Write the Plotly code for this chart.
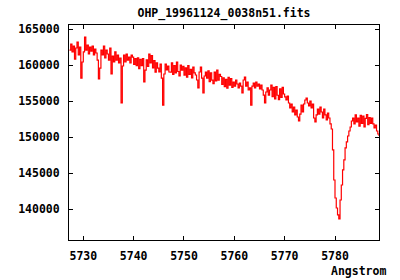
import numpy as np
import plotly.graph_objects as go

title_text = "OHP_19961124_0038n51.fits"
x_label = "Angstrom"

wave_start = 5727.25
wave_step = 0.25

flux = [
    162080, 162920, 161810, 162640, 160830, 162360, 163190, 161390, 162500, 158190,
    160420, 161810, 163890, 162080, 162780, 161530, 162500, 161940, 162640, 161390,
    162220, 161670, 160690, 158060, 159580, 162080, 161390, 162640, 160970, 162080,
    161530, 160690, 162360, 158750, 161250, 160420, 161810, 160690, 161390, 160280,
    160970, 154720, 159860, 161390, 160420, 161530, 160690, 161110, 160280, 161390,
    161100, 160100, 160900, 159900, 161000, 159500, 160800, 159900, 160900, 157640,
    159300, 160700, 159800, 161500, 160300, 161300, 159600, 160600, 159000, 160300,
    159580, 159030, 160140, 158190, 154440, 158750, 160140, 159310, 159860, 159030,
    159000, 160300, 158700, 159900, 158900, 160400, 159100, 158500, 160000, 159300,
    159800, 158600, 159600, 158300, 159900, 158700, 159400, 158200, 159700, 158900,
    158610, 157920, 156810, 159030, 159720, 158190, 156110, 158470, 159030, 158190,
    159200, 157700, 158900, 157900, 157400, 159000, 157800, 159300, 157900, 158700,
    158400, 157300, 158200, 157000, 158000, 156800, 158300, 157200, 158100, 156900,
    157640, 157080, 157920, 157360, 156810, 157500, 157080, 156110, 157920, 158330,
    157080, 157640, 156530, 156810, 154440, 157080, 157500, 156810, 157640, 157080,
    157360, 156670, 157220, 156530, 155830, 154720, 156250, 156810, 155830, 156530,
    157200, 155600, 156900, 155300, 157000, 155800, 155200, 156700, 155500, 156900,
    155970, 155560, 155140, 155690, 154720, 154030, 154580, 153470, 154170, 153060,
    153750, 152780, 152220, 153190, 154440, 153470, 154580, 155140, 155420, 154720,
    154310, 155000, 154030, 154580, 152640, 152080, 153060, 153890, 153190, 154170,
    153470, 152640, 153890, 153060, 152360, 153330, 152640, 151810, 151110, 148220,
    144030, 141530, 140140, 139170, 138610, 141250, 143330, 145420, 146810, 148500,
    149330, 150140, 150830, 151390, 152220, 152640, 151810, 153060, 152080, 152640,
    151500, 153000, 151900, 152900, 151400, 152600, 153100, 151700, 152700, 151900,
    152640, 151810, 151250, 151670, 150830, 150420, 150140,
]

x_ticks = [5730, 5740, 5750, 5760, 5770, 5780]
y_ticks = [140000, 145000, 150000, 155000, 160000, 165000]

wave = wave_start + wave_step * np.arange(len(flux))

fig = go.Figure()
fig.add_trace(go.Scatter(
    x=wave, y=flux, mode="lines", line=dict(color="#ff0000", width=1.2, shape="hv"),
    showlegend=False, hoverinfo="skip",
))

font = dict(family="DejaVu Sans Mono", size=11.5, color="black", weight="bold")

axis_common = dict(
    showline=True, linecolor="black", linewidth=1, mirror="ticks",
    ticks="inside", ticklen=4, tickcolor="black", tickwidth=1,
    showgrid=False, zeroline=False, tickfont=font,
)

fig.update_layout(
    width=400, height=280,
    margin=dict(l=69, r=21, t=25, b=40),
    paper_bgcolor="white", plot_bgcolor="white",
    font=font,
    title=dict(text=title_text, x=(69 + 379) / 2 / 400, xanchor="center",
               y=1 - 13 / 280, yanchor="middle", font=font),
    xaxis=dict(range=[5727.16, 5788.74], tickvals=x_ticks,
               ticktext=[str(v) for v in x_ticks], ticklabelstandoff=5, **axis_common),
    yaxis=dict(range=[135694, 165556], tickvals=y_ticks,
               ticktext=[str(v) for v in y_ticks], ticklabelstandoff=6, **axis_common),
    annotations=[dict(text=x_label, xref="paper", yref="paper",
                      x=(388 - 69) / 310, y=(240 - 271) / 215,
                      xanchor="right", yanchor="middle", showarrow=False, font=font)],
)

fig.write_html("out.html")
